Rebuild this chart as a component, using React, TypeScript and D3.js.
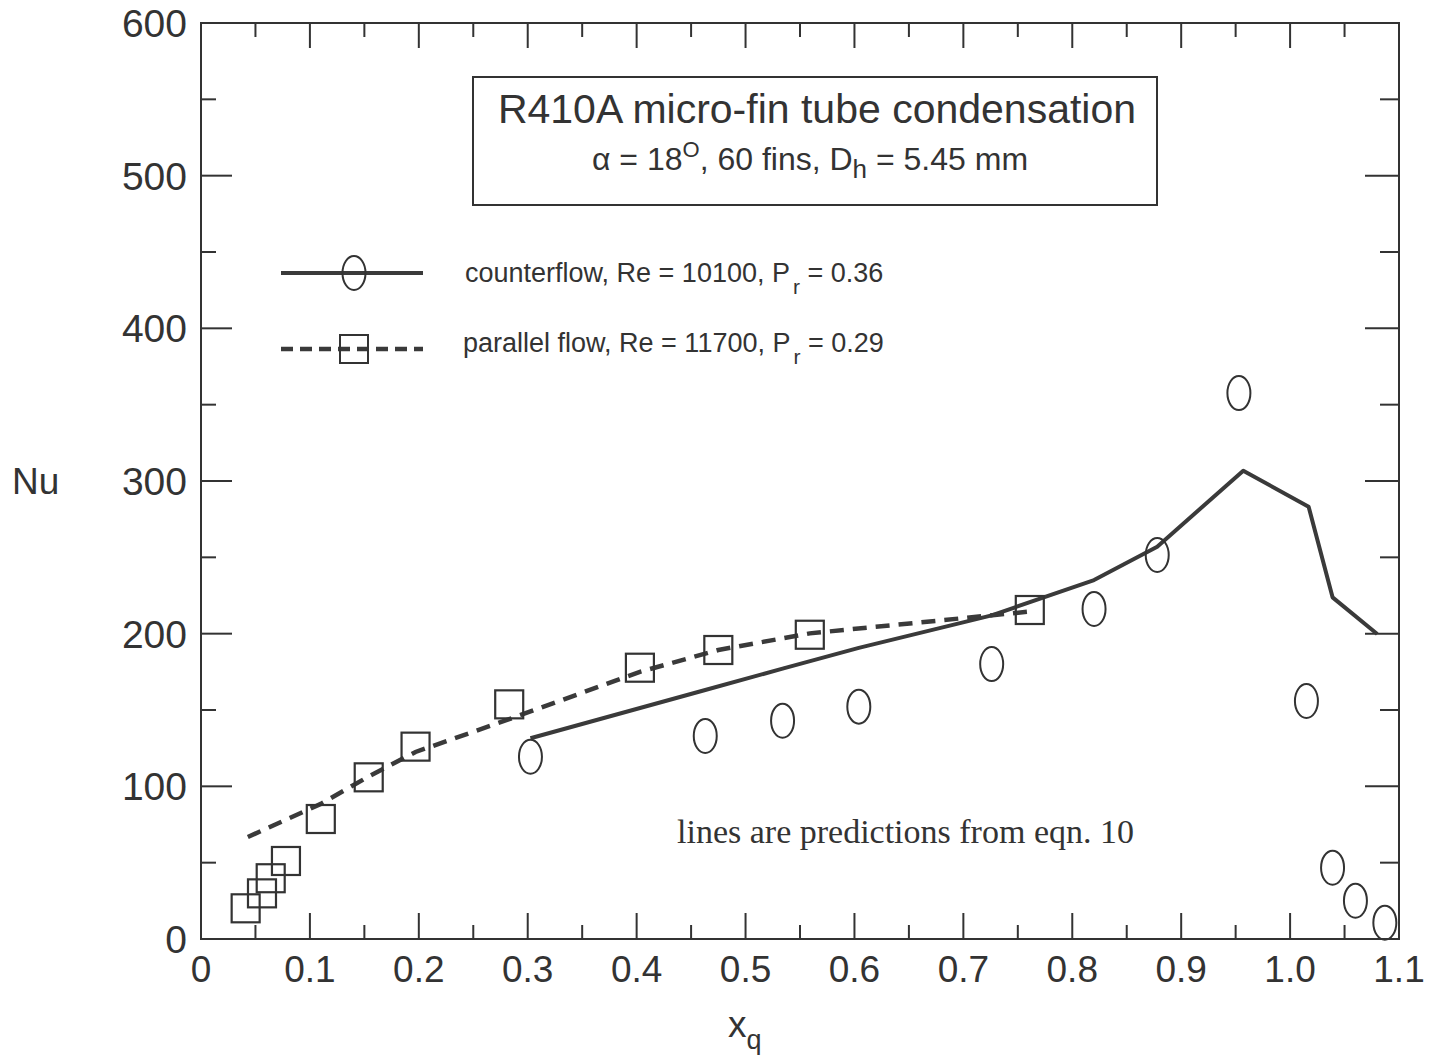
import React from 'react';
import * as d3 from 'd3';

// Measured data: counterflow (circles) and parallel flow (squares)
const counterX = [0.3025, 0.463, 0.534, 0.604, 0.726, 0.82, 0.878, 0.953, 1.015, 1.039, 1.06, 1.087];
const counterNu = [119.4, 133.0, 143.0, 152.2, 180.1, 216.2, 251.5, 357.6, 155.9, 46.7, 25.1, 10.7];
const parallelX = [0.041, 0.056, 0.064, 0.078, 0.11, 0.154, 0.197, 0.283, 0.403, 0.475, 0.559, 0.761];
const parallelNu = [20.1, 29.9, 39.8, 51.1, 78.6, 105.9, 126.0, 153.7, 177.7, 189.3, 199.3, 215.5];

// Predictions from eqn. 10
const counterPredX = [0.3025, 0.463, 0.534, 0.604, 0.726, 0.82, 0.878, 0.957, 1.017, 1.039, 1.08];
const counterPredNu = [131.5, 163.1, 177.1, 190.7, 212.0, 235.1, 257.0, 306.7, 283.2, 223.8, 199.8];
const parallelPredX = [0.043, 0.11, 0.154, 0.197, 0.283, 0.403, 0.475, 0.559, 0.761];
const parallelPredNu = [66.8, 88.5, 106.5, 122.5, 144.0, 175.0, 189.3, 200.2, 214.5];

const xMajor = [0, 0.1, 0.2, 0.3, 0.4, 0.5, 0.6, 0.7, 0.8, 0.9, 1.0, 1.1];
const xMajorLabels = ['0', '0.1', '0.2', '0.3', '0.4', '0.5', '0.6', '0.7', '0.8', '0.9', '1.0', '1.1'];
const xMinor = [0.05, 0.15, 0.25, 0.35, 0.45, 0.55, 0.65, 0.75, 0.85, 0.95, 1.05];
const yMajor = [0, 100, 200, 300, 400, 500, 600];
const yMinor = [50, 150, 250, 350, 450, 550];

const INK = '#333';
const LINE = '#3a3a3a';
const SANS = '"Liberation Sans", Arial, Helvetica, sans-serif';
const SERIF = '"Liberation Serif", "Times New Roman", serif';

const L = 201, R = 1399, T = 23, B = 939;

export default function App() {
  const x = d3.scaleLinear().domain([0, 1.1]).range([L, R]);
  const y = d3.scaleLinear().domain([0, 600]).range([B, T]);

  const counterPred = counterPredX.map((v, i) => [v, counterPredNu[i]] as [number, number]);
  const parallelPred = parallelPredX.map((v, i) => [v, parallelPredNu[i]] as [number, number]);
  const line = d3.line<[number, number]>().x(d => x(d[0])).y(d => y(d[1]));

  const sq = 28;

  return (
    <div style={{ position: 'absolute', left: 0, top: 0 }}>
      <svg width={1431} height={1059} style={{ display: 'block', background: '#fff' }}>
        <rect x={0} y={0} width={1431} height={1059} fill="#fff" />

        {/* frame */}
        <rect x={L} y={T} width={R - L} height={B - T} fill="none" stroke={INK} strokeWidth={2} />

        {/* x ticks bottom & top */}
        {xMajor.map(v => (
          <g key={'xm' + v}>
            <line x1={x(v)} x2={x(v)} y1={B} y2={B - 26} stroke={INK} strokeWidth={2} />
            <line x1={x(v)} x2={x(v)} y1={T} y2={T + 25} stroke={INK} strokeWidth={2} />
          </g>
        ))}
        {xMinor.map(v => (
          <g key={'xn' + v}>
            <line x1={x(v)} x2={x(v)} y1={B} y2={B - 14} stroke={INK} strokeWidth={2} />
            <line x1={x(v)} x2={x(v)} y1={T} y2={T + 14} stroke={INK} strokeWidth={2} />
          </g>
        ))}
        {/* y ticks left & right */}
        {yMajor.map(v => (
          <g key={'ym' + v}>
            <line x1={L} x2={L + 31} y1={y(v)} y2={y(v)} stroke={INK} strokeWidth={2} />
            <line x1={R} x2={R - 34} y1={y(v)} y2={y(v)} stroke={INK} strokeWidth={2} />
          </g>
        ))}
        {yMinor.map(v => (
          <g key={'yn' + v}>
            <line x1={L} x2={L + 15} y1={y(v)} y2={y(v)} stroke={INK} strokeWidth={2} />
            <line x1={R} x2={R - 19} y1={y(v)} y2={y(v)} stroke={INK} strokeWidth={2} />
          </g>
        ))}

        {/* tick labels */}
        {xMajor.map((v, i) => (
          <text key={'xl' + v} x={x(v)} y={982} textAnchor="middle" fontFamily={SANS} fontSize={37} fill={INK}>
            {xMajorLabels[i]}
          </text>
        ))}
        {yMajor.map(v => (
          <text key={'yl' + v} x={187} y={y(v) + 14} textAnchor="end" fontFamily={SANS} fontSize={39} fill={INK}>
            {String(v)}
          </text>
        ))}

        {/* axis titles */}
        <text x={12} y={494} fontFamily={SANS} fontSize={37} fill={INK}>Nu</text>
        <text x={728} y={1037} fontFamily={SANS} fontSize={37} fill={INK}>
          x<tspan fontSize={27} dy={12}>q</tspan>
        </text>

        {/* title box */}
        <rect x={473} y={77} width={684} height={128} fill="#fff" stroke={INK} strokeWidth={2} />
        <text x={817} y={123} textAnchor="middle" fontFamily={SANS} fontSize={41} fill={INK}>
          R410A micro-fin tube condensation
        </text>
        <text x={810} y={170} textAnchor="middle" fontFamily={SANS} fontSize={32} fill={INK}>
          α = 18<tspan fontSize={22} dy={-13}>O</tspan>
          <tspan dy={13}>, 60 fins, D</tspan>
          <tspan fontSize={26} dy={8}>h</tspan>
          <tspan dy={-8}> = 5.45 mm</tspan>
        </text>

        {/* legend */}
        <line x1={281} x2={423} y1={273} y2={273} stroke={LINE} strokeWidth={4} />
        <ellipse cx={354} cy={273} rx={11.5} ry={17} fill="none" stroke={INK} strokeWidth={2} />
        <text x={465} y={282} fontFamily={SANS} fontSize={27} fill={INK}>
          counterflow, Re = 10100, P<tspan fontSize={21} dx={3} dy={12}>r</tspan>
          <tspan dy={-12}> = 0.36</tspan>
        </text>
        <line x1={281} x2={423} y1={349} y2={349} stroke={LINE} strokeWidth={4.5} strokeDasharray="12 7" />
        <rect x={354 - sq / 2} y={349 - sq / 2} width={sq} height={sq} fill="none" stroke={INK} strokeWidth={2} />
        <text x={463} y={352} fontFamily={SANS} fontSize={27} fill={INK}>
          parallel flow, Re = 11700, P<tspan fontSize={21} dx={3} dy={12}>r</tspan>
          <tspan dy={-12}> = 0.29</tspan>
        </text>

        {/* prediction lines */}
        <path d={line(counterPred) || ''} fill="none" stroke={LINE} strokeWidth={4} strokeLinejoin="round" />
        <path d={line(parallelPred) || ''} fill="none" stroke={LINE} strokeWidth={4.5} strokeDasharray="14 9" />

        {/* data markers */}
        {counterX.map((v, i) => (
          <ellipse key={'c' + i} cx={x(v)} cy={y(counterNu[i])} rx={11.5} ry={17} fill="none" stroke={INK} strokeWidth={2} />
        ))}
        {parallelX.map((v, i) => (
          <rect key={'p' + i} x={x(v) - sq / 2} y={y(parallelNu[i]) - sq / 2} width={sq} height={sq} fill="none" stroke={INK} strokeWidth={2.2} />
        ))}

        {/* note */}
        <text x={677} y={843} fontFamily={SERIF} fontSize={34} fill={INK}>lines are predictions from eqn. 10</text>
      </svg>
    </div>
  );
}
